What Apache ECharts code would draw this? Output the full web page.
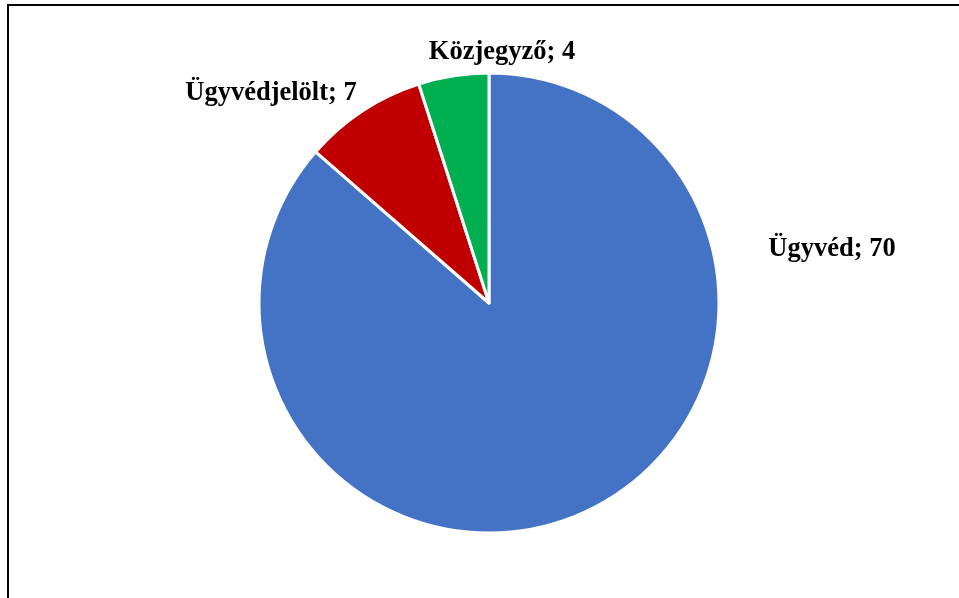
<!DOCTYPE html>
<html>
<head>
<meta charset="utf-8">
<script src="https://cdn.jsdelivr.net/npm/echarts@6/dist/echarts.min.js"></script>
<style>html,body{margin:0;padding:0;background:#fff}#c{width:959px;height:598px}</style>
</head>
<body>
<div id="c"></div>
<script>
var categories = ['Ügyvéd', 'Ügyvédjelölt', 'Közjegyző'];
var values = [70, 7, 4];
var colors = ['#4472C4', '#C00000', '#00B050'];
var labelPos = [[832, 249], [271, 93], [502, 52]];

var chart = echarts.init(document.getElementById('c'), null, {renderer: 'canvas'});
chart.setOption({
  animation: false,
  backgroundColor: '#ffffff',
  graphic: [{
    type: 'rect',
    shape: {x: 8, y: 5, width: 1200, height: 1000},
    style: {fill: 'none', stroke: '#000', lineWidth: 2},
    silent: true
  }],
  series: [{
    type: 'pie',
    center: [489, 303],
    radius: 230,
    startAngle: 90,
    clockwise: true,
    itemStyle: {borderColor: '#fff', borderWidth: 3},
    label: {
      show: true,
      formatter: '{b}; {c}',
      fontFamily: '"Liberation Serif", "Times New Roman", serif',
      fontWeight: 'bold',
      fontSize: 26.5,
      color: '#000'
    },
    labelLine: {show: false},
    labelLayout: function (p) {
      var pos = labelPos[p.dataIndex];
      return {x: pos[0], y: pos[1], align: 'center', verticalAlign: 'middle'};
    },
    data: categories.map(function (n, i) {
      return {name: n, value: values[i], itemStyle: {color: colors[i]}};
    })
  }]
});
</script>
</body>
</html>
